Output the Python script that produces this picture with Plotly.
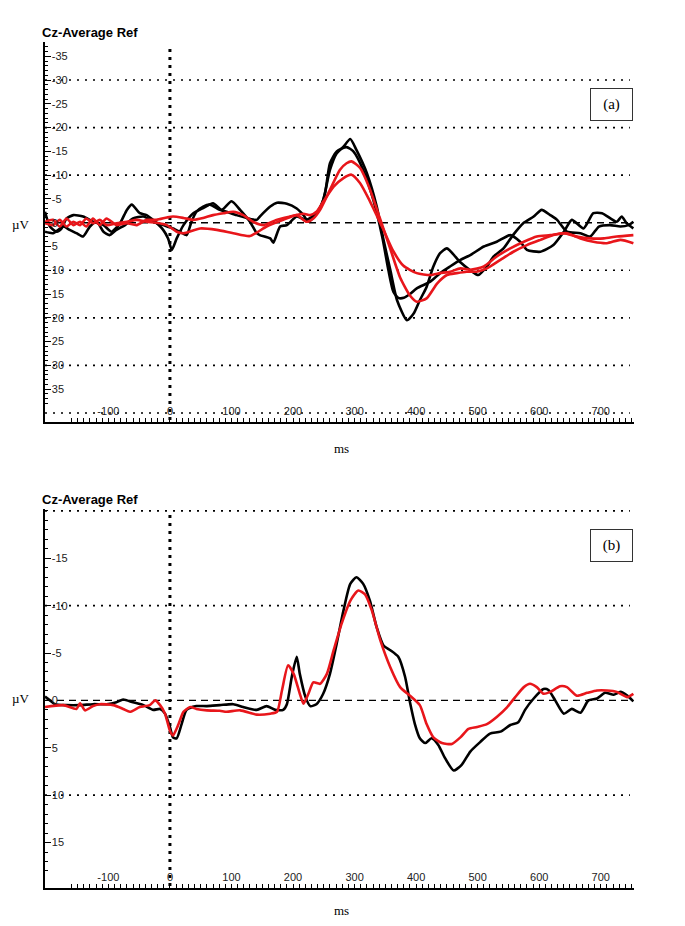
import plotly.graph_objects as go

# ---- panel (a): four averaged waveforms (uV, negative up) ----
a_black1_ms = [-203, -195, -184, -176, -168, -157, -141, -125, -108, -95, -81, -70, -62, -49, -38, -24, -11, -3, 3, 11,
               22, 38, 54, 70, 84, 100, 114, 130, 141, 146, 163, 168, 179, 190, 206, 222, 238, 249, 260, 271,
               282, 293, 303, 320, 336, 347, 358, 369, 385, 396, 406, 417, 428, 439, 450, 471, 488, 501, 515, 526,
               542, 558, 574, 591, 604, 618, 629, 645, 667, 683, 697, 715, 732, 745, 753]
a_black1_uv = [-2.3, 0.8, 1.9, 1.2, -0.9, -1.6, -1.3, -0.2, 0.5, 1.9, 0.1, -2.7, -3.8, -2.0, -1.6, -0.2, 1.5, 3.3, 5.7, 3.3,
               0.5, -2.0, -3.1, -4.1, -2.7, -4.5, -2.7, -0.2, 2.2, 2.6, 3.3, 4.2, 0.8, 0.5, -1.3, -0.6, -2.0, -4.8, -11.1, -14.6,
               -16.0, -17.6, -15.3, -10.4, -3.4, 3.6, 9.9, 16.3, 20.5, 19.1, 16.3, 13.5, 9.2, 6.4, 5.4, 8.2, 10.0, 11.0, 9.2, 7.1,
               5.4, 2.5, 0.1, -1.3, -2.7, -1.6, -0.6, 1.9, 2.2, 2.9, 0.8, 0.5, 0.8, 0.5, -0.2]

a_black2_ms = [-203, -190, -173, -163, -152, -141, -130, -119, -108, -98, -87, -73, -60, -43, -27, -11, 5, 16, 27, 35,
               43, 54, 65, 81, 92, 108, 125, 141, 146, 163, 174, 190, 206, 217, 225, 236, 244, 252, 260, 271,
               287, 298, 314, 330, 345, 355, 363, 371, 380, 390, 401, 423, 439, 455, 472, 488, 510, 531, 553, 569,
               580, 602, 623, 640, 653, 672, 688, 702, 726, 734, 742, 753]
a_black2_uv = [1.9, 2.2, 0.8, 1.5, 2.2, 2.9, 0.8, -0.2, 1.9, 2.6, 1.5, 0.5, -0.9, -1.3, -0.2, 0.5, 1.2, 1.9, 2.6, -0.2,
               -2.3, -3.4, -3.8, -2.7, -2.3, -1.6, -1.0, -0.6, -1.3, -3.4, -4.2, -4.0, -3.0, -1.6, -0.2, -1.6, -3.0, -6.2, -12.5, -15.0,
               -15.9, -15.0, -11.1, -5.0, 3.0, 10.0, 14.5, 15.8, 15.8, 15.0, 13.8, 12.4, 10.6, 9.2, 7.8, 6.8, 5.0, 4.0, 2.6, 4.0,
               5.7, 6.1, 4.7, 1.9, -0.6, 1.2, -2.0, -2.0, -0.2, -1.3, 0.1, 1.2]

a_red1_ms = [-203, -190, -179, -168, -157, -146, -136, -125, -114, -103, -87, -70, -54, -38, -22, -5, 11, 22, 49, 76,
             103, 130, 157, 184, 206, 222, 233, 244, 260, 276, 287, 295, 309, 325, 341, 358, 374, 390, 401, 417,
             434, 450, 466, 482, 498, 515, 537, 558, 580, 602, 623, 645, 667, 688, 710, 732, 753]
a_red1_uv = [0.1, 0.5, -0.6, 0.8, -0.2, 0.5, -0.9, 0.1, -0.6, 0.5, 0.1, -0.2, -0.6, -0.2, 0.0, 0.5, 1.9, 2.2, 1.2, 1.5,
             2.2, 2.8, 0.8, -0.6, -1.6, -0.2, -0.9, -2.7, -6.9, -11.1, -12.5, -12.9, -11.5, -7.0, -1.0, 5.5, 11.5, 15.3, 16.6, 15.9,
             12.8, 11.0, 10.6, 10.3, 10.3, 9.6, 7.8, 6.1, 4.7, 3.6, 2.6, 2.2, 3.3, 4.0, 4.3, 3.6, 4.3]

a_red2_ms = [-203, -190, -179, -168, -157, -146, -136, -125, -114, -103, -87, -70, -54, -38, -22, -5, 5, 22, 38, 54,
             70, 87, 103, 119, 135, 152, 173, 195, 217, 228, 238, 249, 266, 282, 295, 309, 325, 347, 363, 379,
             401, 423, 439, 455, 472, 488, 510, 531, 553, 575, 596, 618, 640, 661, 683, 705, 726, 753]
a_red2_uv = [-0.2, -0.6, 0.8, -0.9, 0.5, -0.2, 0.8, -0.9, 0.5, -0.9, 0.5, 0.1, 0.5, -0.6, -0.6, -1.1, -1.3, -1.0, -0.6, -1.0,
             -1.6, -2.0, -2.3, -1.6, -0.2, 0.5, -0.6, -1.3, -1.9, -1.6, -2.3, -4.4, -7.6, -9.4, -10.1, -8.3, -4.5, 1.5, 6.0, 9.0,
             10.6, 11.0, 10.6, 10.3, 9.6, 9.9, 9.2, 7.1, 5.4, 4.0, 2.9, 2.6, 2.2, 2.9, 3.3, 3.3, 2.9, 2.6]

# ---- panel (b): two grand averages ----
b_black_ms = [-203, -195, -187, -168, -146, -125, -103, -87, -76, -60, -43, -27, -16, -8, 0, 5, 11, 19, 27, 43,
              60, 81, 103, 119, 141, 157, 171, 184, 190, 198, 206, 211, 220, 228, 238, 249, 260, 271, 282, 293,
              303, 314, 325, 336, 347, 358, 371, 382, 390, 398, 406, 415, 425, 436, 447, 461, 474, 488, 504, 520,
              537, 553, 566, 577, 591, 607, 615, 626, 640, 653, 667, 680, 694, 707, 721, 732, 743, 753]
b_black_uv = [-0.4, 0.0, 0.4, 0.5, 0.5, 0.4, 0.4, 0.2, -0.1, 0.2, 0.5, 1.0, 0.9, 1.4, 2.8, 3.9, 4.0, 2.5, 1.0, 0.6,
              0.6, 0.5, 0.4, 0.7, 1.0, 0.6, 1.0, 1.0, 0.4, -2.5, -4.6, -2.8, -0.4, 0.6, 0.4, -0.7, -2.8, -6.0, -9.5, -12.3,
              -13.0, -12.3, -10.5, -7.7, -5.8, -5.3, -4.6, -2.5, 0.2, 2.5, 4.0, 4.5, 4.0, 4.7, 6.1, 7.4, 6.8, 5.4, 4.4, 3.5,
              3.3, 2.6, 2.3, 1.0, -0.2, -1.2, -1.1, 0.0, 1.4, 0.9, 1.3, 0.0, -0.2, -0.8, -0.6, -0.9, -0.5, 0.1]

b_red_ms = [-203, -173, -152, -146, -138, -125, -114, -92, -76, -65, -49, -33, -24, -16, -8, 0, 5, 14, 22, 33,
            43, 60, 81, 92, 114, 141, 163, 174, 182, 192, 201, 211, 217, 225, 233, 244, 255, 266, 279, 293,
            306, 317, 328, 342, 358, 374, 390, 406, 417, 428, 442, 458, 472, 485, 499, 515, 531, 548, 561, 575,
            585, 596, 607, 618, 634, 645, 661, 678, 694, 710, 726, 743, 753]
b_red_uv = [0.7, 0.5, 0.9, 0.3, 1.05, 0.6, 0.4, 0.5, 0.9, 1.2, 0.7, 0.5, 0.0, 0.5, 1.4, 3.2, 3.7, 2.5, 1.2, 0.7,
            0.9, 1.05, 1.1, 1.2, 1.05, 1.5, 1.4, 1.2, -1.05, -3.7, -2.8, -0.7, 0.35, -0.7, -1.9, -1.75, -2.8, -5.3, -8.1, -10.5,
            -11.6, -11.2, -9.5, -6.3, -3.5, -1.4, -0.5, 0.5, 2.5, 3.9, 4.5, 4.6, 3.9, 3.0, 2.8, 2.5, 1.75, 0.7, -0.35, -1.4,
            -1.75, -1.4, -0.7, -0.9, -1.5, -1.4, -0.5, -0.8, -1.05, -1.05, -0.9, -0.35, -0.7]

# axis ticks
x_ticks = [-100, 0, 100, 200, 300, 400, 500, 600, 700]
y_ticks_a = [-35, -30, -25, -20, -15, -10, -5, 0, 5, 10, 15, 20, 25, 30, 35, 40]
y_ticks_b = [-15, -10, -5, 0, 5, 10, 15]
grid_a = [-30, -20, -10, 10, 20, 30, 40]
grid_b = [-20, -10, 10]
onset_ms = 0

BLACK = "#000000"
RED = "#e8161b"
SANS = "Liberation Sans, Arial, sans-serif"
SERIF = "Liberation Serif, Times New Roman, serif"

# the page body has an 8px margin, so the figure is drawn 8px smaller and shifted
OFF = 8
W, H = 685 - OFF, 926 - OFF

def fx(x):
    return (x - OFF) / W

def fy(y):
    return 1 - (y - OFF) / H

fig = go.Figure()

def add_wave(x, y, color, xa, ya):
    fig.add_trace(go.Scatter(x=x, y=y, mode="lines", xaxis=xa, yaxis=ya,
                             line=dict(color=color, width=2.6, shape="spline", smoothing=0.6),
                             hoverinfo="skip"))

add_wave(a_black1_ms, a_black1_uv, BLACK, "x", "y")
add_wave(a_black2_ms, a_black2_uv, BLACK, "x", "y")
add_wave(a_red1_ms, a_red1_uv, RED, "x", "y")
add_wave(a_red2_ms, a_red2_uv, RED, "x", "y")
add_wave(b_black_ms, b_black_uv, BLACK, "x2", "y2")
add_wave(b_red_ms, b_red_uv, RED, "x2", "y2")

def xaxis(domain, anchor):
    return dict(domain=domain, anchor=anchor, range=[-203, 754],
                showline=True, linecolor=BLACK, linewidth=2, mirror=False,
                showgrid=False, zeroline=False,
                tickvals=x_ticks, ticktext=[str(v) for v in x_ticks],
                ticks="inside", ticklen=4, tickcolor=BLACK, tickwidth=1,
                ticklabelposition="inside",
                tickfont=dict(family=SANS, size=11, color="#222"),
                minor=dict(dtick=10, ticks="inside", ticklen=4, tickcolor=BLACK, tickwidth=1))

def yaxis(domain, anchor, rng, ticks):
    return dict(domain=domain, anchor=anchor, range=rng,
                showline=True, linecolor=BLACK, linewidth=2, mirror=False,
                showgrid=False, zeroline=False,
                tickvals=ticks, ticktext=[str(v) for v in ticks],
                ticks="inside", ticklen=6, tickcolor=BLACK, tickwidth=1,
                ticklabelposition="inside",
                tickfont=dict(family=SANS, size=11, color="#222"),
                minor=dict(dtick=1, ticks="inside", ticklen=3, tickcolor=BLACK, tickwidth=1))

xdom = [fx(45), fx(634)]

shapes = []
for ref, grid in (("y", grid_a), ("y2", grid_b)):
    xr = "x domain" if ref == "y" else "x2 domain"
    for v in grid:
        shapes.append(dict(type="line", xref=xr, yref=ref, x0=0, x1=0.993, y0=v, y1=v,
                           line=dict(color=BLACK, width=1.6, dash="2px,6px"), layer="below"))
    shapes.append(dict(type="line", xref=xr, yref=ref, x0=0, x1=0.993, y0=0, y1=0,
                       line=dict(color=BLACK, width=1.4, dash="7px,5px"), layer="below"))
    shapes.append(dict(type="line", xref="x" if ref == "y" else "x2", yref=ref + " domain",
                       x0=onset_ms, x1=onset_ms, y0=0.005, y1=0.99,
                       line=dict(color=BLACK, width=3, dash="3px,5px"), layer="below"))

annotations = []
for ttl_y, uv_y, ms_y, box_y, tag in ((33, 224, 448, 104.5, "(a)"), (499, 698, 910, 545, "(b)")):
    annotations.append(dict(x=fx(40), y=fy(ttl_y), xref="paper", yref="paper",
                            xanchor="left", yanchor="middle",
                            text="<b>Cz-Average Ref</b>", showarrow=False,
                            font=dict(family=SANS, size=13, color=BLACK)))
    annotations.append(dict(x=fx(20), y=fy(uv_y), xref="paper", yref="paper",
                            xanchor="center", yanchor="middle",
                            text="\u00b5V", showarrow=False,
                            font=dict(family=SERIF, size=13, color=BLACK)))
    annotations.append(dict(x=fx(341), y=fy(ms_y), xref="paper", yref="paper",
                            xanchor="center", yanchor="middle",
                            text="ms", showarrow=False,
                            font=dict(family=SERIF, size=13, color=BLACK)))
    annotations.append(dict(x=fx(611.5), y=fy(box_y), xref="paper", yref="paper",
                            xanchor="center", yanchor="middle",
                            text=tag, showarrow=False,
                            width=41, height=31, bordercolor="#333", borderwidth=1, borderpad=0,
                            font=dict(family=SERIF, size=15, color=BLACK)))

fig.update_layout(
    width=W, height=H,
    margin=dict(l=0, r=0, t=0, b=0),
    paper_bgcolor="white", plot_bgcolor="white",
    showlegend=False,
    xaxis=xaxis(xdom, "y"),
    yaxis=yaxis([fy(422), fy(42)], "x", [41.9, -38.0], y_ticks_a),
    xaxis2=xaxis(xdom, "y2"),
    yaxis2=yaxis([fy(888), fy(509)], "x2", [19.8, -20.2], y_ticks_b),
    shapes=shapes,
    annotations=annotations,
)

fig.write_html("out.html")
